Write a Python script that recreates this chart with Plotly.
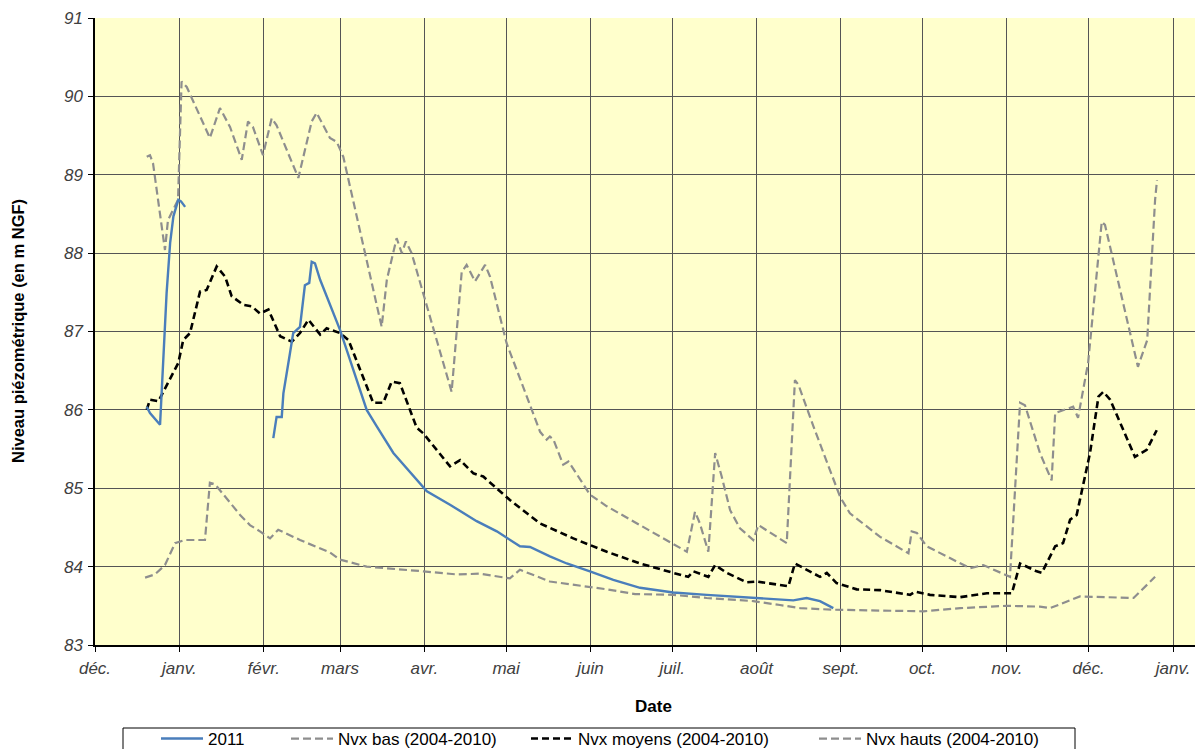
import pandas as pd
import plotly.graph_objects as go

# x values are days elapsed since 2010-12-01
BASE = pd.Timestamp("2010-12-01")

# ---- 2011 (None = gap in record)
y2011_days = [19.0, 20.2, 23.9, 26.3, 27.6, 28.8, 30.6, 31.6, 33.1, None,
              65.5, 66.7, 68.6, 69.2, 71.6, 72.8, 75.3, 77.1, 78.7, 79.6, 80.8, 82.7,
              90.0, 99.8, 103.5, 109.6, 121.9, 130.4, 140.2, 147.6, 156.1, 159.8, 167.1,
              173.3, 181.8, 190.4, 200.2, 212.4, 224.7, 236.9, 249.2, 256.5, 261.4, 266.3, 271.2]
y2011_vals = [86.04, 85.96, 85.81, 87.49, 88.13, 88.47, 88.68, 88.66, 88.59, None,
              85.64, 85.91, 85.91, 86.21, 86.72, 86.98, 87.06, 87.59, 87.62, 87.89, 87.87, 87.66,
              87.02, 86.00, 85.79, 85.45, 84.96, 84.79, 84.58, 84.45, 84.26, 84.25, 84.13,
              84.04, 83.94, 83.83, 83.73, 83.67, 83.64, 83.61, 83.58, 83.57, 83.60, 83.56, 83.47]

# ---- Nvx bas (2004-2010)
bas_days = [18.4, 22.0, 25.7, 29.4, 33.1, 40.4, 42.2, 44.1, 53.3, 56.9, 60.6, 64.3, 67.3,
            75.3, 86.3, 90.0, 99.8, 112.0, 120.6, 132.9, 141.4, 152.4, 156.1, 167.1, 175.7,
            188.0, 198.4, 212.4, 224.7, 241.8, 251.6, 259.0, 271.2, 288.4, 304.3, 317.8,
            334.9, 347.1, 350.8, 361.8, 381.5, 389.4]
bas_vals = [83.86, 83.90, 84.02, 84.30, 84.34, 84.34, 85.07, 85.05, 84.66, 84.53, 84.45, 84.36, 84.47,
            84.34, 84.18, 84.09, 84.00, 83.97, 83.94, 83.90, 83.91, 83.85, 83.96, 83.81, 83.77,
            83.71, 83.65, 83.64, 83.60, 83.56, 83.51, 83.47, 83.45, 83.44, 83.43, 83.47,
            83.50, 83.49, 83.47, 83.62, 83.60, 83.87]

# ---- Nvx moyens (2004-2010)
moy_days = [19.0, 20.2, 23.3, 30.6, 32.4, 34.9, 38.6, 41.0, 44.7, 47.8, 50.2, 54.5, 57.6, 60.6,
            63.7, 68.0, 72.3, 75.3, 78.4, 82.7, 85.1, 90.0, 93.1, 102.2, 105.9, 109.0, 112.0,
            118.2, 120.6, 130.4, 134.1, 139.0, 142.6, 152.4, 163.5, 175.7, 188.0, 200.2, 212.4,
            217.9, 219.8, 225.3, 227.8, 232.1, 239.4, 243.1, 254.7, 257.1, 266.3, 268.8, 272.4,
            279.8, 288.4, 299.4, 301.2, 306.7, 317.8, 327.6, 336.8, 339.8, 345.9, 347.8, 352.7,
            355.6, 358.2, 360.6, 365.5, 368.6, 370.4, 372.9, 382.0, 386.3, 390.0]
moy_vals = [86.00, 86.13, 86.11, 86.60, 86.89, 86.98, 87.51, 87.53, 87.83, 87.70, 87.45, 87.34, 87.32, 87.23,
            87.28, 86.94, 86.87, 86.98, 87.15, 86.96, 87.04, 86.98, 86.89, 86.09, 86.09, 86.36, 86.34,
            85.77, 85.70, 85.28, 85.36, 85.19, 85.15, 84.85, 84.55, 84.36, 84.19, 84.04, 83.92,
            83.87, 83.94, 83.87, 84.02, 83.92, 83.80, 83.81, 83.75, 84.04, 83.87, 83.92, 83.79,
            83.71, 83.70, 83.64, 83.68, 83.64, 83.61, 83.66, 83.66, 84.04, 83.94, 83.92, 84.26,
            84.30, 84.60, 84.66, 85.45, 86.17, 86.23, 86.13, 85.40, 85.49, 85.74]

# ---- Nvx hauts (2004-2010)
haut_days = [19.0, 20.2, 21.3, 25.7, 26.8, 28.7, 30.5, 31.8, 33.7, 42.2, 45.9, 49.6, 53.9, 56.2,
             58.0, 61.7, 64.9, 66.7, 74.7, 79.6, 81.4, 86.3, 88.8, 91.2, 98.6, 105.3, 107.2,
             110.8, 112.7, 114.2, 116.3, 131.0, 134.7, 136.5, 139.6, 143.3, 145.1, 151.2, 163.5,
             165.9, 167.1, 168.4, 172.0, 173.9, 175.1, 181.8, 188.0, 200.2, 217.4, 220.4, 222.2,
             225.3, 227.8, 230.2, 233.3, 236.9, 241.8, 243.7, 249.2, 254.1, 257.1, 258.4, 263.9,
             273.7, 277.3, 288.4, 298.8, 300.0, 301.9, 305.5, 321.4, 326.3, 336.1, 339.8, 341.6,
             347.1, 351.4, 352.7, 359.3, 361.1, 364.8, 369.8, 371.0, 383.1, 386.5, 389.4, 390.1]
haut_vals = [89.23, 89.25, 89.15, 88.04, 88.42, 88.55, 88.68, 90.19, 90.12, 89.47, 89.85, 89.61, 89.19, 89.68,
             89.61, 89.25, 89.72, 89.63, 88.96, 89.68, 89.79, 89.47, 89.42, 89.23, 88.08, 87.06, 87.66,
             88.19, 88.00, 88.15, 88.00, 86.23, 87.76, 87.85, 87.64, 87.85, 87.70, 86.85, 85.72,
             85.62, 85.66, 85.62, 85.30, 85.34, 85.28, 84.92, 84.77, 84.53, 84.19, 84.70, 84.55,
             84.19, 85.45, 85.15, 84.72, 84.49, 84.34, 84.53, 84.41, 84.30, 86.38, 86.32, 85.79,
             84.89, 84.68, 84.38, 84.17, 84.45, 84.43, 84.26, 83.98, 84.02, 83.87, 86.09, 86.06,
             85.45, 85.10, 85.96, 86.04, 85.90, 86.60, 88.40, 88.36, 86.55, 86.89, 88.68, 88.93]

# axis ticks
tick_dates = ["2010-12-01", "2011-01-01", "2011-02-01", "2011-03-01", "2011-04-01", "2011-05-01",
              "2011-06-01", "2011-07-01", "2011-08-01", "2011-09-01", "2011-10-01", "2011-11-01",
              "2011-12-01", "2012-01-01"]
tick_labels = ["déc.", "janv.", "févr.", "mars", "avr.", "mai", "juin", "juil.", "août",
               "sept.", "oct.", "nov.", "déc.", "janv."]
y_ticks = [83, 84, 85, 86, 87, 88, 89, 90, 91]


def to_dates(days):
    return [None if d is None else BASE + pd.Timedelta(days=d) for d in days]


FONT = "Liberation Sans, Arial, sans-serif"
fig = go.Figure()

fig.add_trace(go.Scatter(x=to_dates(bas_days), y=bas_vals, mode="lines", name="Nvx bas (2004-2010)",
                         line=dict(color="#8E8E8E", width=2.2, dash="8px,4px"), legend="legend2"))
fig.add_trace(go.Scatter(x=to_dates(haut_days), y=haut_vals, mode="lines", name="Nvx hauts (2004-2010)",
                         line=dict(color="#8E8E8E", width=2.2, dash="8px,4px"), legend="legend4"))
fig.add_trace(go.Scatter(x=to_dates(moy_days), y=moy_vals, mode="lines", name="Nvx moyens (2004-2010)",
                         line=dict(color="#000000", width=2.6, dash="7px,4px"), legend="legend3"))
fig.add_trace(go.Scatter(x=to_dates(y2011_days), y=y2011_vals, mode="lines", name="2011",
                         line=dict(color="#4A7EBB", width=2.4), connectgaps=False, legend="legend",
                         showlegend=True))

# page body has an 8px default margin; figure is sized to fit inside the window
OFF = 8
W, H = 1203 - OFF, 749 - OFF
L, T = 95 - OFF, 18 - OFF
PLOT_BOTTOM = 645 - OFF
B, R = H - PLOT_BOTTOM, 0
pw, ph = W - L - R, H - T - B


def px_x(px):
    return (px - OFF - L) / pw


def px_y(py):
    return (PLOT_BOTTOM - (py - OFF)) / ph


leg_common = dict(orientation="h", bgcolor="rgba(0,0,0,0)", borderwidth=0,
                  font=dict(family=FONT, size=17, color="#000000"), itemwidth=42,
                  xanchor="left", yanchor="top", y=px_y(721), visible=True)

fig.update_layout(
    width=W, height=H,
    showlegend=True,
    margin=dict(l=L, r=R, t=T, b=B, autoexpand=False),
    paper_bgcolor="#FFFFFF",
    plot_bgcolor="#FFFFCC",
    font=dict(family=FONT, size=17, color="#000000"),
    legend=dict(leg_common, x=px_x(156)),
    legend2=dict(leg_common, x=px_x(286)),
    legend3=dict(leg_common, x=px_x(526)),
    legend4=dict(leg_common, x=px_x(814)),
    xaxis=dict(
        type="date",
        range=["2010-12-01", "2012-01-12"],
        tickvals=tick_dates, ticktext=tick_labels,
        tickfont=dict(family=FONT, size=17, color="#404040", style="italic"),
        ticks="outside", ticklen=5, tickcolor="#000000", ticklabelstandoff=2,
        showgrid=True, gridcolor="#555555", gridwidth=1,
        showline=True, linecolor="#000000", linewidth=1.5,
        zeroline=False,
    ),
    yaxis=dict(
        range=[83, 91],
        tickvals=y_ticks,
        tickfont=dict(family=FONT, size=17, color="#404040", style="italic"),
        ticks="outside", ticklen=5, tickcolor="#000000", ticklabelstandoff=2,
        showgrid=True, gridcolor="#555555", gridwidth=1,
        showline=True, linecolor="#000000", linewidth=1.5,
        zeroline=False,
    ),
    shapes=[dict(type="rect", xref="paper", yref="paper",
                 x0=px_x(123), x1=px_x(1075), y0=px_y(760), y1=px_y(728),
                 line=dict(color="#000000", width=1), fillcolor="#FFFFFF", layer="below")],
    annotations=[
        dict(text="<b>Date</b>", xref="paper", yref="paper", x=px_x(653), y=px_y(706),
             xanchor="center", yanchor="middle", showarrow=False,
             font=dict(family=FONT, size=17, color="#000000")),
        dict(text="<b>Niveau piézométrique (en m NGF)</b>", xref="paper", yref="paper",
             x=px_x(18), y=px_y(331), xanchor="center", yanchor="middle", textangle=-90,
             showarrow=False, font=dict(family=FONT, size=16.5, color="#000000")),
    ],
)

fig.write_html("out.html")
